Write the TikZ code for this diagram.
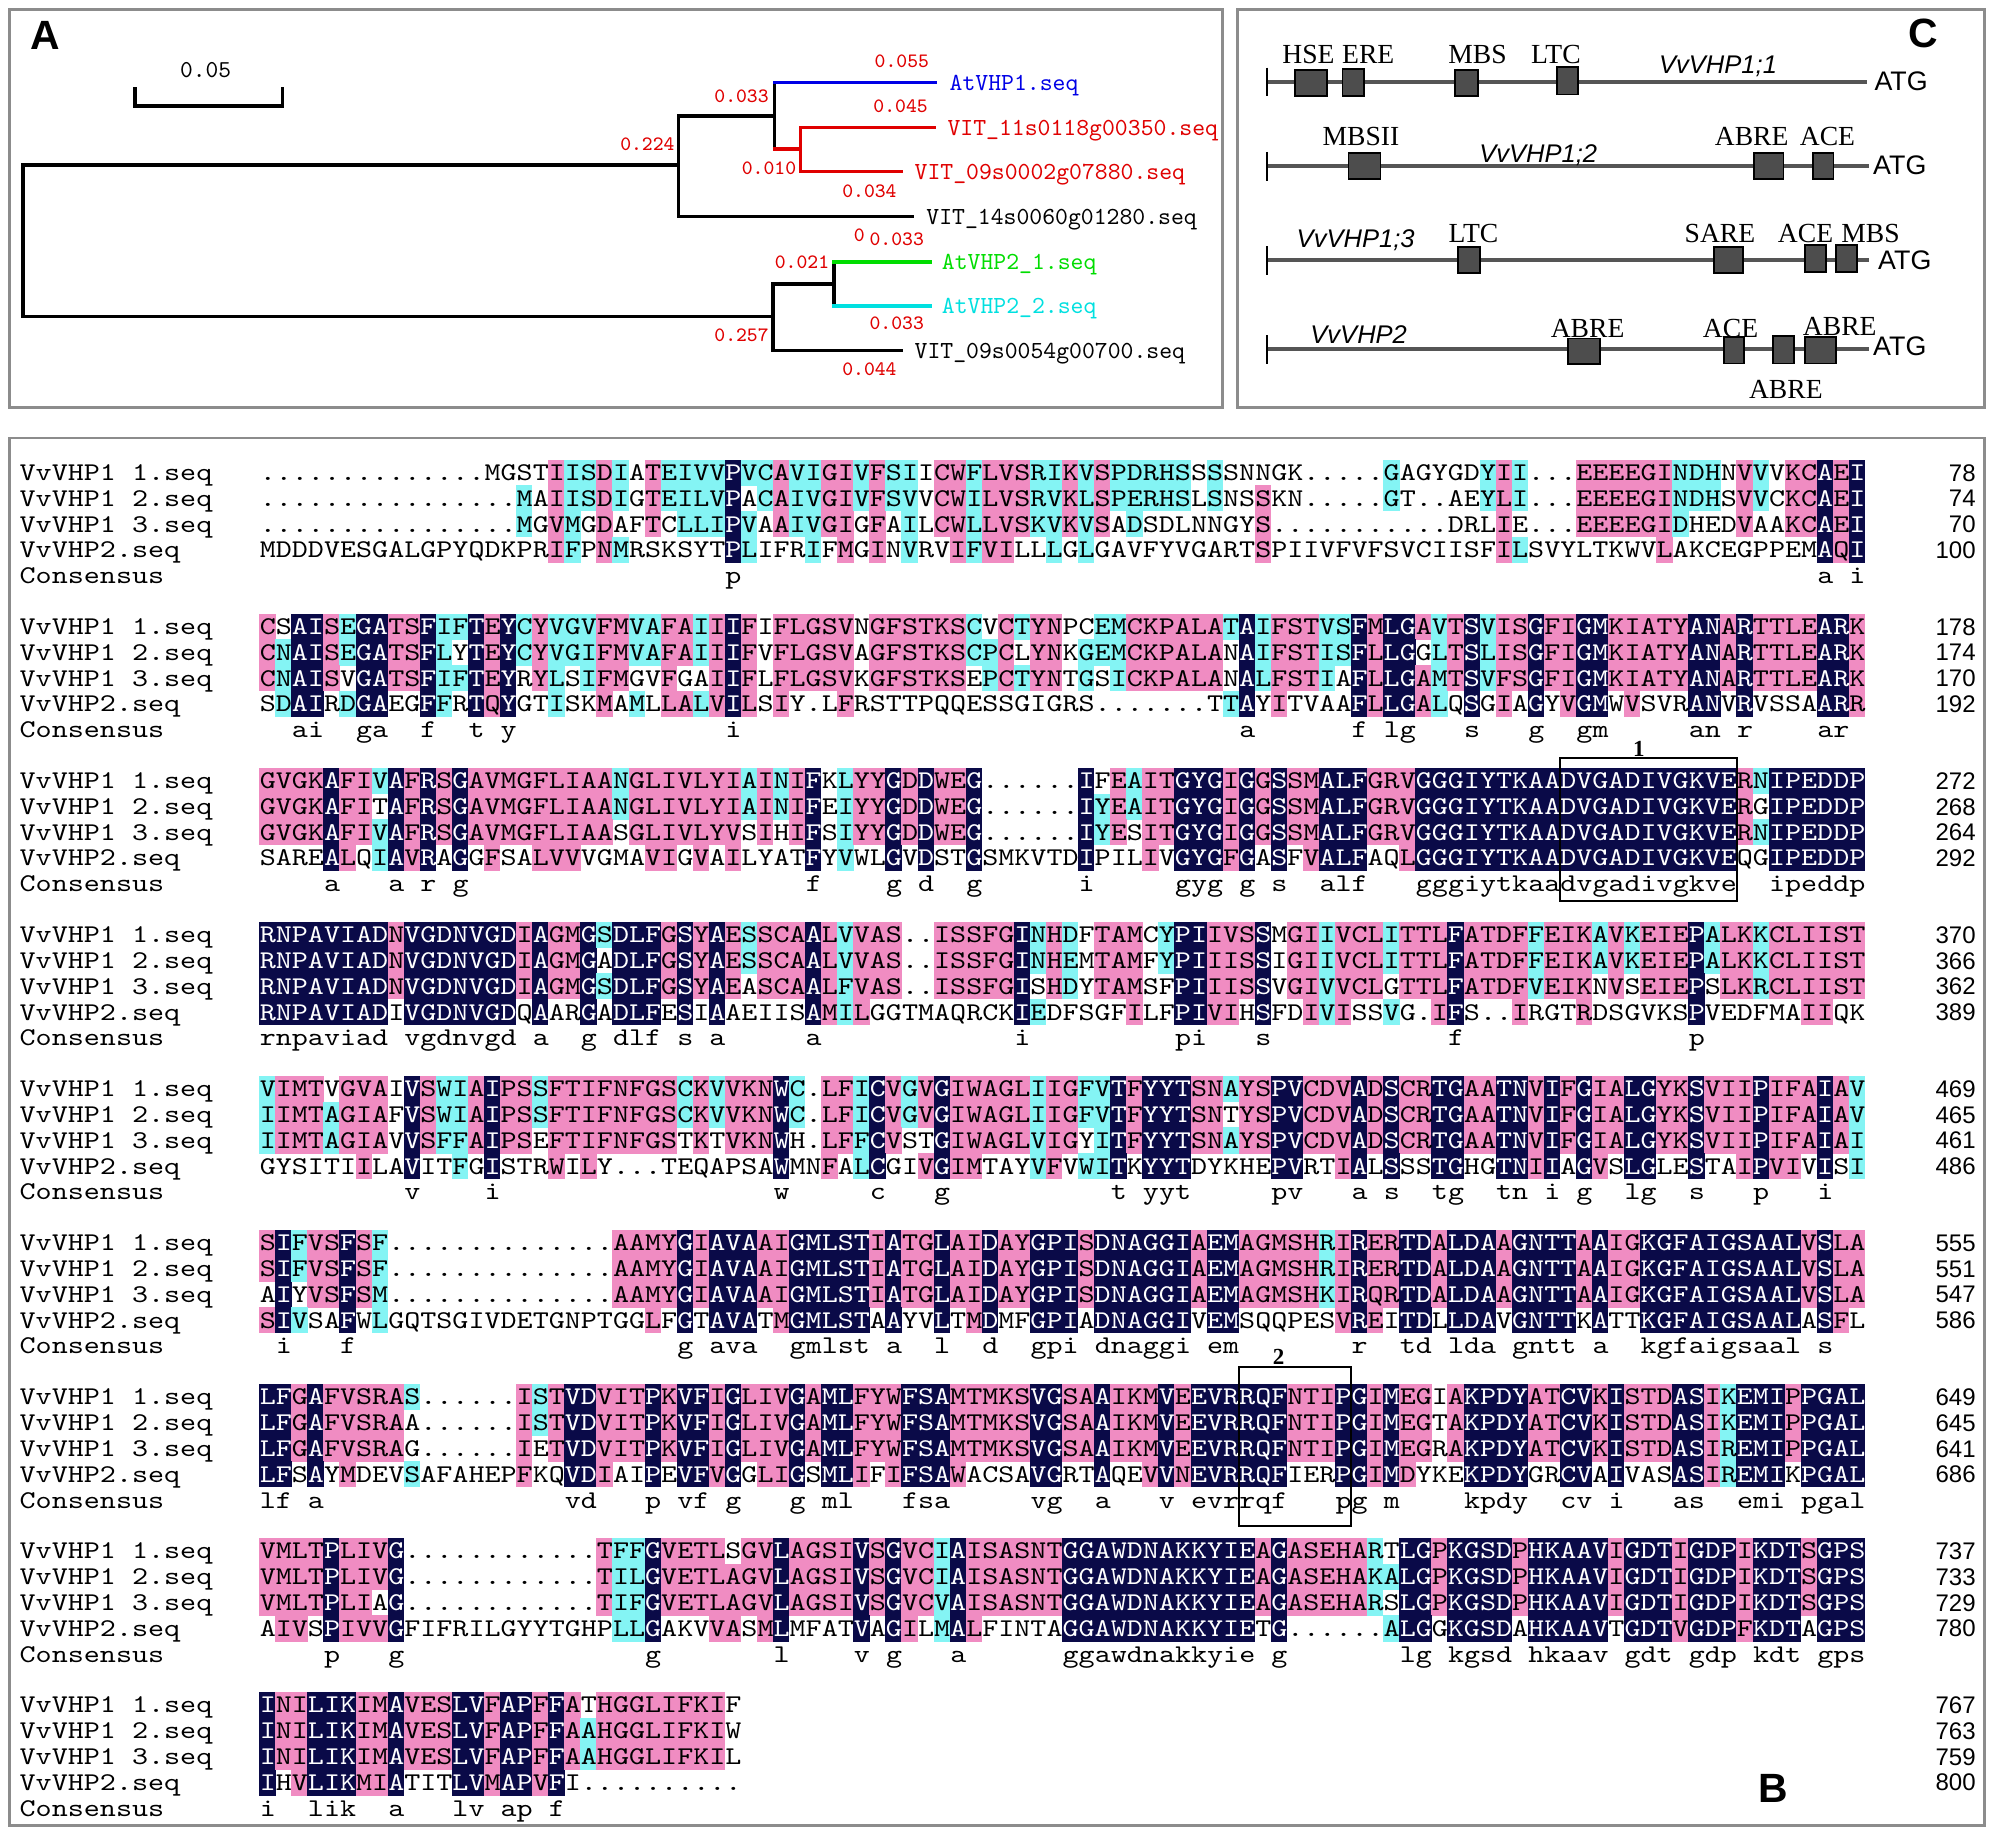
\documentclass[tikz,border=0pt]{standalone}
\usepackage{fontspec}
\setmainfont{Liberation Serif}
\newfontfamily\sansf{Liberation Sans}
\newfontfamily\seqf{lmmono10-regular.otf}[FakeStretch=1.197]
\definecolor{navyc}{HTML}{0A0A48}
\definecolor{pinkc}{HTML}{F08CC2}
\definecolor{cyanc}{HTML}{84F4F4}
\definecolor{framec}{HTML}{8C8C8C}
\definecolor{promc}{HTML}{555555}
\definecolor{boxc}{HTML}{4D4D4D}
\definecolor{tblue}{HTML}{0000E6}
\definecolor{tred}{HTML}{E00000}
\definecolor{tgreen}{HTML}{00DD00}
\definecolor{tcyan}{HTML}{00E0E0}
\tikzset{
  rowtext/.style={font=\seqf\fontsize{10}{10}\selectfont, inner sep=0pt, anchor=base west},
  lab/.style={rowtext},
  num/.style={font=\sansf\fontsize{9.4}{10}\selectfont, inner sep=0pt, anchor=base east},
  br/.style={line width=1.4pt, line cap=rect},
  tlab/.style={font=\ttfamily\fontsize{9.6}{10}\selectfont, inner sep=0pt, anchor=base west},
  bl/.style={font=\ttfamily\fontsize{8}{9}\selectfont, inner sep=0pt, text=tred},
  prom/.style={line width=1.5pt, draw=promc},
  tick/.style={line width=0.6pt, draw=black},
  tbox/.style={fill=boxc, draw=black, line width=0.7pt},
  elem/.style={font=\fontsize{10.8}{11}\selectfont, inner sep=0pt},
  gname/.style={font=\sansf\itshape\fontsize{10}{10}\selectfont, inner sep=0pt, anchor=base west},
  atg/.style={font=\sansf\fontsize{10.5}{11}\selectfont, inner sep=0pt, anchor=west},
  panel/.style={draw=framec, line width=1pt},
  plet/.style={font=\sansf\bfseries\fontsize{16}{16}\selectfont, inner sep=0pt},
  motif/.style={draw=black, line width=0.8pt},
  motiflab/.style={font=\bfseries\fontsize{9}{9}\selectfont, inner sep=0pt},
}
\newcommand\alnWhite[1]{{\color{white}#1}}
\newcommand\alnGap{\kern6.285pt\relax}
\newcommand\alnFill[4]{\fill[#1] (#2,#3-10.2) rectangle ++(#4,20.4);}
\newcommand\alnRowText[2]{\node[rowtext] at (203,#1+6.1) {#2};}
\newcommand\alnlabels[5]{%
  \node[lab] at (15,#1+6.1) {VvVHP1 1.seq};
  \node[lab] at (15,#1+26.3) {VvVHP1 2.seq};
  \node[lab] at (15,#1+46.5) {VvVHP1 3.seq};
  \node[lab] at (15,#1+66.7) {VvVHP2.seq};
  \node[lab] at (15,#1+86.9) {Consensus};
  \node[num] at (1547,#1+6.6) {#2};
  \node[num] at (1547,#1+26.8) {#3};
  \node[num] at (1547,#1+47.0) {#4};
  \node[num] at (1547,#1+67.2) {#5};
}
\ExplSyntaxOn
\str_new:N \l_aln_sa_str
\str_new:N \l_aln_sb_str
\str_new:N \l_aln_sc_str
\str_new:N \l_aln_sd_str
\str_new:N \l_aln_ca_str
\str_new:N \l_aln_cb_str
\str_new:N \l_aln_cc_str
\str_new:N \l_aln_cd_str
\str_new:N \l_aln_r_str
\str_new:N \l_aln_out_str
\str_new:N \l_aln_tmp_str
\str_new:N \l_aln_dot_str
\str_set:Nn \l_aln_dot_str {.}
\tl_new:N \l_aln_rg_tl
\tl_new:N \l_aln_xg_tl
\tl_new:N \l_aln_bga_tl
\tl_new:N \l_aln_bgb_tl
\tl_new:N \l_aln_bgc_tl
\tl_new:N \l_aln_bgd_tl
\tl_new:N \l_aln_bg_tl
\tl_new:N \l_aln_cons_tl
\tl_new:N \l_aln_constext_tl
\tl_new:N \l_aln_text_tl
\tl_new:N \l_aln_run_tl
\tl_new:N \l_aln_cur_tl
\tl_new:N \l_aln_code_tl
\tl_const:Nn \c_aln_none_tl {none}
\tl_const:Nn \c_aln_navy_tl {navyc}
\int_new:N \l_aln_m_int
\int_new:N \l_aln_n_int
\int_new:N \l_aln_rep_int
\int_new:N \l_aln_start_int
\int_new:N \l_aln_len_int
\bool_new:N \l_aln_cons_bool
\bool_new:N \l_aln_hit_bool
\prop_new:N \l_aln_cons_prop
\cs_generate_variant:Nn \prop_put:Nnn { Nxx }
\cs_new_protected:Npn \aln_expand:N #1
 {
  \str_clear:N \l_aln_out_str
  \int_zero:N \l_aln_rep_int
  \str_map_inline:Nn #1
   {
    \tl_if_in:nnTF { 0123456789 } { ##1 }
     { \int_set:Nn \l_aln_rep_int { \l_aln_rep_int * 10 + ##1 } }
     {
      \int_compare:nNnTF \l_aln_rep_int > 0
       {
        \prg_replicate:nn { \l_aln_rep_int } { \str_put_right:Nn \l_aln_out_str { ##1 } }
        \int_zero:N \l_aln_rep_int
       }
       { \str_put_right:Nn \l_aln_out_str { ##1 } }
     }
   }
  \str_set_eq:NN #1 \l_aln_out_str
 }
\cs_new_protected:Npn \aln_addcons:w #1 = #2 \q_stop
 {
  \str_set:Nn \l_aln_tmp_str {#2}
  \int_step_inline:nn { \str_count:N \l_aln_tmp_str }
   {
    \prop_put:Nxx \l_aln_cons_prop { \int_eval:n { #1 + ##1 - 1 } } { \str_item:Nn \l_aln_tmp_str {##1} }
   }
 }
\cs_new_protected:Npn \aln_grp:NN #1#2
 {
  \exp_args:NV \str_case:nnF #2
   {
    {I}{\tl_set:Nn #1 {h}} {L}{\tl_set:Nn #1 {h}} {V}{\tl_set:Nn #1 {h}}
    {M}{\tl_set:Nn #1 {h}} {F}{\tl_set:Nn #1 {h}} {W}{\tl_set:Nn #1 {h}}
    {D}{\tl_set:Nn #1 {a}} {E}{\tl_set:Nn #1 {a}} {N}{\tl_set:Nn #1 {a}} {Q}{\tl_set:Nn #1 {a}}
    {K}{\tl_set:Nn #1 {b}} {R}{\tl_set:Nn #1 {b}} {H}{\tl_set:Nn #1 {b}}
   }
   { \tl_set:Nx #1 { #2 x } }
 }
\cs_new_protected:Npn \aln_try:N #1
 {
  \bool_if:nT { ! \str_if_empty_p:N #1 && ! \str_if_eq_p:NN #1 \l_aln_dot_str }
   {
    \int_zero:N \l_aln_n_int
    \str_if_eq:NNT #1 \l_aln_ca_str { \int_incr:N \l_aln_n_int }
    \str_if_eq:NNT #1 \l_aln_cb_str { \int_incr:N \l_aln_n_int }
    \str_if_eq:NNT #1 \l_aln_cc_str { \int_incr:N \l_aln_n_int }
    \str_if_eq:NNT #1 \l_aln_cd_str { \int_incr:N \l_aln_n_int }
    \int_compare:nNnT \l_aln_n_int > \l_aln_m_int
     {
      \int_set_eq:NN \l_aln_m_int \l_aln_n_int
      \str_set_eq:NN \l_aln_r_str #1
     }
   }
 }
\cs_new_protected:Npn \aln_code:NN #1#2
 {
  \tl_set:Nn \l_aln_bg_tl {none}
  \bool_if:NTF \l_aln_cons_bool
   {
    \str_if_eq:NNF #1 \l_aln_dot_str { \tl_set:Nn \l_aln_bg_tl {navyc} }
   }
   {
    \bool_set_false:N \l_aln_hit_bool
    \int_compare:nNnT \l_aln_m_int > 1
     {
      \str_if_eq:NNTF #1 \l_aln_r_str
       { \bool_set_true:N \l_aln_hit_bool }
       {
        \bool_if:nT { ! \str_if_empty_p:N #1 && ! \str_if_eq_p:NN #1 \l_aln_dot_str }
         {
          \aln_grp:NN \l_aln_xg_tl #1
          \tl_if_eq:NNT \l_aln_xg_tl \l_aln_rg_tl { \bool_set_true:N \l_aln_hit_bool }
         }
       }
     }
    \bool_if:NT \l_aln_hit_bool
     {
      \int_compare:nNnTF \l_aln_m_int > 2
       { \tl_set:Nn \l_aln_bg_tl {pinkc} }
       { \tl_set:Nn \l_aln_bg_tl {cyanc} }
     }
   }
  \tl_put_right:Nx #2 { { \l_aln_bg_tl } }
 }
\cs_new_protected:Npn \aln_colpass:n #1
 {
  \str_set:Nx \l_aln_ca_str { \str_item:Nn \l_aln_sa_str {#1} }
  \str_set:Nx \l_aln_cb_str { \str_item:Nn \l_aln_sb_str {#1} }
  \str_set:Nx \l_aln_cc_str { \str_item:Nn \l_aln_sc_str {#1} }
  \str_set:Nx \l_aln_cd_str { \str_item:Nn \l_aln_sd_str {#1} }
  \int_zero:N \l_aln_m_int
  \str_clear:N \l_aln_r_str
  \aln_try:N \l_aln_ca_str
  \aln_try:N \l_aln_cb_str
  \aln_try:N \l_aln_cc_str
  \aln_try:N \l_aln_cd_str
  \aln_grp:NN \l_aln_rg_tl \l_aln_r_str
  \prop_get:NnNTF \l_aln_cons_prop {#1} \l_aln_cons_tl
   {
    \bool_set_true:N \l_aln_cons_bool
    \tl_put_right:NV \l_aln_constext_tl \l_aln_cons_tl
   }
   {
    \bool_set_false:N \l_aln_cons_bool
    \tl_put_right:Nn \l_aln_constext_tl { \alnGap }
   }
  \aln_code:NN \l_aln_ca_str \l_aln_bga_tl
  \aln_code:NN \l_aln_cb_str \l_aln_bgb_tl
  \aln_code:NN \l_aln_cc_str \l_aln_bgc_tl
  \aln_code:NN \l_aln_cd_str \l_aln_bgd_tl
 }
\cs_new_protected:Npn \aln_flush:nn #1#2
 {
  \tl_if_eq:NNTF \l_aln_cur_tl \c_aln_none_tl
   { \tl_put_right:NV \l_aln_text_tl \l_aln_run_tl }
   {
    \use:x
     {
      \exp_not:N \alnFill
       { \l_aln_cur_tl }
       { \fp_eval:n { 203 + 12.57 * ( \l_aln_start_int - 1 ) - 0.1 } }
       { \fp_eval:n { #2 } }
       { \fp_eval:n { 12.57 * ( #1 - \l_aln_start_int ) + 0.2 } }
     }
    \tl_if_eq:NNTF \l_aln_cur_tl \c_aln_navy_tl
     { \tl_put_right:Nx \l_aln_text_tl { \exp_not:N \alnWhite { \exp_not:V \l_aln_run_tl } } }
     { \tl_put_right:NV \l_aln_text_tl \l_aln_run_tl }
   }
  \tl_clear:N \l_aln_run_tl
 }
\cs_new_protected:Npn \aln_row:NNn #1#2#3
 {
  \tl_clear:N \l_aln_text_tl
  \tl_clear:N \l_aln_run_tl
  \tl_set:Nn \l_aln_cur_tl {none}
  \int_set:Nn \l_aln_start_int {1}
  \int_set:Nn \l_aln_len_int { \str_count:N #1 }
  \int_step_inline:nn { \l_aln_len_int }
   {
    \tl_set:Nx \l_aln_code_tl { \tl_item:Nn #2 {##1} }
    \tl_if_eq:NNF \l_aln_code_tl \l_aln_cur_tl
     {
      \aln_flush:nn {##1} {#3}
      \tl_set_eq:NN \l_aln_cur_tl \l_aln_code_tl
      \int_set:Nn \l_aln_start_int {##1}
     }
    \tl_put_right:Nx \l_aln_run_tl { \str_item:Nn #1 {##1} }
   }
  \aln_flush:nn { \l_aln_len_int + 1 } {#3}
  \use:x { \exp_not:N \alnRowText { \fp_eval:n {#3} } { \exp_not:V \l_aln_text_tl } }
 }
\NewDocumentCommand \alnblock { m m m m m m }
 {
  \str_set:Nn \l_aln_sa_str {#2} \aln_expand:N \l_aln_sa_str
  \str_set:Nn \l_aln_sb_str {#3} \aln_expand:N \l_aln_sb_str
  \str_set:Nn \l_aln_sc_str {#4} \aln_expand:N \l_aln_sc_str
  \str_set:Nn \l_aln_sd_str {#5} \aln_expand:N \l_aln_sd_str
  \prop_clear:N \l_aln_cons_prop
  \clist_map_inline:nn {#6} { \aln_addcons:w ##1 \q_stop }
  \tl_clear:N \l_aln_bga_tl
  \tl_clear:N \l_aln_bgb_tl
  \tl_clear:N \l_aln_bgc_tl
  \tl_clear:N \l_aln_bgd_tl
  \tl_clear:N \l_aln_constext_tl
  \int_step_inline:nn { 100 } { \aln_colpass:n {##1} }
  \aln_row:NNn \l_aln_sa_str \l_aln_bga_tl {#1}
  \aln_row:NNn \l_aln_sb_str \l_aln_bgb_tl {#1+20.2}
  \aln_row:NNn \l_aln_sc_str \l_aln_bgc_tl {#1+40.4}
  \aln_row:NNn \l_aln_sd_str \l_aln_bgd_tl {#1+60.6}
  \use:x { \exp_not:N \alnRowText { \fp_eval:n {#1+80.8} } { \exp_not:V \l_aln_constext_tl } }
 }
\ExplSyntaxOff
\begin{document}
\begin{tikzpicture}[x=0.5pt,y=-0.5pt]
\useasboundingbox (0,0) rectangle (1568,1440);
\fill[white] (0,0) rectangle (1568,1440);

% ---------------- Panel A: tree ----------------
\draw[panel] (7.4,7.3) rectangle (957,318.9);
\node[plet] (letA) at (35.6,27.4) {A};
\draw[line width=1.4pt] (105.7,68.4) -- (105.7,83) -- (221.1,83) -- (221.1,68.4);
\node[font=\ttfamily\fontsize{9.5}{10}\selectfont, inner sep=0pt] (scl) at (161,54.8) {0.05};

\coordinate (r1) at (18,129.2); \coordinate (r2) at (18,247.9);
\coordinate (n1) at (531,129.2); \coordinate (n1t) at (531,90.8); \coordinate (n1b) at (531,169.6);
\coordinate (n2) at (606.3,90.8); \coordinate (n2t) at (606.3,64.7); \coordinate (n2b) at (606.3,116.6);
\coordinate (n3) at (626.5,116.6); \coordinate (n3t) at (626.5,99.9); \coordinate (n3b) at (626.5,134.4);
\coordinate (n4) at (605,247.9); \coordinate (n4t) at (605,222.3); \coordinate (n4b) at (605,274.5);
\coordinate (n5) at (653,222.3); \coordinate (n5t) at (653,204.9); \coordinate (n5b) at (653,239.6);
\coordinate (e1) at (732.2,64.7); \coordinate (e2) at (731,99.9); \coordinate (e3) at (705.2,134.4);
\coordinate (e4) at (714.4,169.6); \coordinate (e5) at (727.9,204.9); \coordinate (e6) at (727.9,239.6);
\coordinate (e7) at (705.2,274.5);
\draw[br] (r1) -- (r2);
\draw[br] (r1) -- (n1);
\draw[br] (n1t) -- (n1b);
\draw[br] (n1t) -- (n2);
\draw[br] (n2t) -- (n2b);
\draw[br, tred] (n2b) -- (n3);
\draw[br, tred] (n3t) -- (n3b);
\draw[br, tblue] (n2t) -- (e1);
\draw[br, tred] (n3t) -- (e2);
\draw[br, tred] (n3b) -- (e3);
\draw[br] (n1b) -- (e4);
\draw[br] (r2) -- (n4);
\draw[br] (n4t) -- (n4b);
\draw[br] (n4t) -- (n5);
\draw[br] (n5t) -- (n5b);
\draw[br, tgreen] (n5t) -- (e5);
\draw[br, tcyan] (n5b) -- (e6);
\draw[br] (n4b) -- (e7);
\node[tlab, text=tblue] (t1) at (743,70.6) {AtVHP1.seq};
\node[tlab, text=tred] (t2) at (741.4,105.8) {VIT\_11s0118g00350.seq};
\node[tlab, text=tred] (t3) at (715.6,140.3) {VIT\_09s0002g07880.seq};
\node[tlab] (t4) at (724.8,175.5) {VIT\_14s0060g01280.seq};
\node[tlab, text=tgreen] (t5) at (737,210.8) {AtVHP2\_1.seq};
\node[tlab, text=tcyan] (t6) at (737,245.5) {AtVHP2\_2.seq};
\node[tlab] (t7) at (715.6,280.4) {VIT\_09s0054g00700.seq};
\node[bl] (b1) at (706,48.3) {0.055};
\node[bl] (b2) at (580.5,75.2) {0.033};
\node[bl] (b3) at (705,83.5) {0.045};
\node[bl] (b4) at (506.8,112.7) {0.224};
\node[bl] (b5) at (602,131.8) {0.010};
\node[bl] (b6) at (680.6,150) {0.034};
\node[bl] (b7) at (672.6,184) {0};
\node[bl] (b8) at (702,187.4) {0.033};
\node[bl] (b9) at (627.8,205.6) {0.021};
\node[bl] (b10) at (702,253) {0.033};
\node[bl] (b11) at (580.5,262.3) {0.257};
\node[bl] (b12) at (680.6,289) {0.044};

% ---------------- Panel C: promoters ----------------
\draw[panel] (968.7,7.3) rectangle (1553.4,318.9);
\node[plet] (letC) at (1505.4,26) {C};
\draw[prom] (991.7,63.9) -- (1461.3,63.9);
\draw[tick] (991.7,53) -- (991.7,75.5);
\draw[tbox] (1013.9,54.8) rectangle (1038.9,74.9);
\draw[tbox] (1051,54) rectangle (1068,74.9);
\draw[tbox] (1139.3,54.8) rectangle (1157.3,74.9);
\draw[tbox] (1219,52.2) rectangle (1235.2,73.9);
\node[elem] at (1024.3,43) {HSE};
\node[elem] at (1071.1,43) {ERE};
\node[elem] at (1156.6,43) {MBS};
\node[elem] at (1218,43) {LTC};
\node[gname] at (1298.4,57.6) {VvVHP1;1};
\node[atg] at (1467,63.9) {ATG};
\draw[prom] (991.7,129.7) -- (1463.3,129.7);
\draw[tick] (991.7,118.8) -- (991.7,141.3);
\draw[tbox] (1055.7,120) rectangle (1080.6,140.1);
\draw[tbox] (1373.2,120) rectangle (1396.2,140.1);
\draw[tbox] (1419.2,120) rectangle (1435.3,140.1);
\node[elem] at (1065.4,107) {MBSII};
\node[elem] at (1371.2,107) {ABRE};
\node[elem] at (1430.6,107) {ACE};
\node[gname] at (1157.6,127.2) {VvVHP1;2};
\node[atg] at (1466,129.7) {ATG};
\draw[prom] (991.7,203.5) -- (1463.3,203.5);
\draw[tick] (991.7,192.6) -- (991.7,215.1);
\draw[tbox] (1141.2,193.6) rectangle (1158.5,214);
\draw[tbox] (1341.8,193.6) rectangle (1364.4,214);
\draw[tbox] (1413.2,191.8) rectangle (1429.3,212.7);
\draw[tbox] (1437.4,191.8) rectangle (1453.5,212.7);
\node[elem] at (1153.5,182.7) {LTC};
\node[elem] at (1346.4,182.7) {SARE};
\node[elem] at (1413.4,182.7) {ACE};
\node[elem] at (1464.3,182.7) {MBS};
\node[gname] at (1014.7,193.8) {VvVHP1;3};
\node[atg] at (1469.9,204) {ATG};
\draw[prom] (991.7,273.5) -- (1463.3,273.5);
\draw[tick] (991.7,262.6) -- (991.7,285.1);
\draw[tbox] (1227.5,264.9) rectangle (1252.4,285);
\draw[tbox] (1349.4,263.6) rectangle (1365.5,284.5);
\draw[tbox] (1388.1,263) rectangle (1404.2,284.5);
\draw[tbox] (1413.1,263.6) rectangle (1437.2,284.5);
\node[elem] at (1242.8,257) {ABRE};
\node[elem] at (1354.7,257) {ACE};
\node[elem] at (1440.2,255.7) {ABRE};
\node[elem] at (1398,304.8) {ABRE};
\node[gname] at (1025.4,269.2) {VvVHP2};
\node[atg] at (1466,271.4) {ATG};

% ---------------- Panel B: alignment ----------------
\draw[panel] (7.4,343) rectangle (1553.4,1429);
\node[plet] (letB) at (1388,1400) {B};

\alnlabels{370}{78}{74}{70}{100}
\alnblock{370}
{14.MGSTIISDIATEIVVPVCAVIGIVFSIICWFLVSRIKVSPDRHSSSSNNGK5.GAGYGDYII3.EEEEGINDHNVVVKCAEI}
{16.MAIISDIGTEILVPACAIVGIVFSVVCWILVSRVKLSPERHSLSNSSKN5.GT2.AEYLI3.EEEEGINDHSVVCKCAEI}
{16.MGVMGDAFTCLLIPVAAIVGIGFAILCWLLVSKVKVSADSDLNNGYS11.DRLIE3.EEEEGIDHEDVAAKCAEI}
{MDDDVESGALGPYQDKPRIFPNMRSKSYTPLIFRIFMGINVRVIFVILLLGLGAVFYVGARTSPIIVFVFSVCIISFILSVYLTKWVLAKCEGPPEMAQI}
{30=p,98=a,100=i}

\alnlabels{490.6}{178}{174}{170}{192}
\alnblock{490.6}
{CSAISEGATSFIFTEYCYVGVFMVAFAIIIFIFLGSVNGFSTKSCVCTYNPCEMCKPALATAIFSTVSFMLGAVTSVISGFIGMKIATYANARTTLEARK}
{CNAISEGATSFLYTEYCYVGIFMVAFAIIIFVFLGSVAGFSTKSCPCLYNKGEMCKPALANAIFSTISFLLGGLTSLISGFIGMKIATYANARTTLEARK}
{CNAISVGATSFIFTEYRYLSIFMGVFGAIIFLFLGSVKGFSTKSEPCTYNTGSICKPALANALFSTIAFLLGAMTSVFSGFIGMKIATYANARTTLEARK}
{SDAIRDGAEGFFRTQYGTISKMAMLLALVILSIY.LFRSTTPQQESSGIGRS7.TTAYITVAAFLLGALQSGIAGYVGMWVSVRANVRVSSAARR}
{3=ai,7=ga,11=f,14=t,16=y,30=i,62=a,69=f,71=lg,76=s,80=g,83=gm,90=an,93=r,98=ar}

\alnlabels{611.2}{272}{268}{264}{292}
\alnblock{611.2}
{GVGKAFIVAFRSGAVMGFLIAANGLIVLYIAINIFKLYYGDDWEG6.IFEAITGYGIGGSSMALFGRVGGGIYTKAADVGADIVGKVERNIPEDDP}
{GVGKAFITAFRSGAVMGFLIAANGLIVLYIAINIFEIYYGDDWEG6.IYEAITGYGIGGSSMALFGRVGGGIYTKAADVGADIVGKVERGIPEDDP}
{GVGKAFIVAFRSGAVMGFLIAASGLIVLYVSIHIFSIYYGDDWEG6.IYESITGYGIGGSSMALFGRVGGGIYTKAADVGADIVGKVERNIPEDDP}
{SAREALQIAVRAGGFSALVVVGMAVIGVAILYATFYVWLGVDSTGSMKVTDIPILIVGYGFGASFVALFAQLGGGIYTKAADVGADIVGKVEQGIPEDDP}
{5=a,9=a,11=r,13=g,35=f,40=g,42=d,45=g,52=i,58=gyg,62=g,64=s,67=alf,73=gggiytkaadvgadivgkve,95=ipeddp}

\alnlabels{731.8}{370}{366}{362}{389}
\alnblock{731.8}
{RNPAVIADNVGDNVGDIAGMGSDLFGSYAESSCAALVVAS2.ISSFGINHDFTAMCYPIIVSSMGIIVCLITTLFATDFFEIKAVKEIEPALKKCLIIST}
{RNPAVIADNVGDNVGDIAGMGADLFGSYAESSCAALVVAS2.ISSFGINHEMTAMFYPIIISSIGIIVCLITTLFATDFFEIKAVKEIEPALKKCLIIST}
{RNPAVIADNVGDNVGDIAGMGSDLFGSYAEASCAALFVAS2.ISSFGISHDYTAMSFPIIISSVGIVVCLGTTLFATDFVEIKNVSEIEPSLKRCLIIST}
{RNPAVIADIVGDNVGDQAARGADLFESIAAEIISAMILGGTMAQRCKIEDFSGFILFPIVIHSFDIVISSVG.IFS2.IRGTRDSGVKSPVEDFMAIIQK}
{1=rnpaviad,10=vgdnvgd,18=a,21=g,23=dlf,27=s,29=a,35=a,48=i,58=pi,63=s,75=f,90=p}

\alnlabels{852.4}{469}{465}{461}{486}
\alnblock{852.4}
{VIMTVGVAIVSWIAIPSSFTIFNFGSCKVVKNWC.LFICVGVGIWAGLIIGFVTFYYTSNAYSPVCDVADSCRTGAATNVIFGIALGYKSVIIPIFAIAV}
{IIMTAGIAFVSWIAIPSSFTIFNFGSCKVVKNWC.LFICVGVGIWAGLIIGFVTFYYTSNTYSPVCDVADSCRTGAATNVIFGIALGYKSVIIPIFAIAV}
{IIMTAGIAVVSFFAIPSEFTIFNFGSTKTVKNWH.LFFCVSTGIWAGLVIGYITFYYTSNAYSPVCDVADSCRTGAATNVIFGIALGYKSVIIPIFAIAI}
{GYSITIILAVITFGISTRWILY3.TEQAPSAWMNFALCGIVGIMTAYVFVWITKYYTDYKHEPVRTIALSSSTGHGTNIIAGVSLGLESTAIPVIVISI}
{10=v,15=i,33=w,39=c,43=g,54=t,56=yyt,64=pv,69=a,71=s,74=tg,78=tn,81=i,83=g,86=lg,90=s,94=p,98=i}

\alnlabels{973}{555}{551}{547}{586}
\alnblock{973}
{SIFVSFSF14.AAMYGIAVAAIGMLSTIATGLAIDAYGPISDNAGGIAEMAGMSHRIRERTDALDAAGNTTAAIGKGFAIGSAALVSLA}
{SIFVSFSF14.AAMYGIAVAAIGMLSTIATGLAIDAYGPISDNAGGIAEMAGMSHRIRERTDALDAAGNTTAAIGKGFAIGSAALVSLA}
{AIYVSFSM14.AAMYGIAVAAIGMLSTIATGLAIDAYGPISDNAGGIAEMAGMSHKIRQRTDALDAAGNTTAAIGKGFAIGSAALVSLA}
{SIVSAFWLGQTSGIVDETGNPTGGLFGTAVATMGMLSTAAYVLTMDMFGPIADNAGGIVEMSQQPESVREITDLLDAVGNTTKATTKGFAIGSAALASFL}
{2=i,6=f,27=g,29=ava,34=gmlst,40=a,43=l,46=d,49=gpi,53=dnaggi,60=em,69=r,72=td,75=lda,79=gntt,84=a,87=kgfaigsaal,98=s}

\alnlabels{1093.6}{649}{645}{641}{686}
\alnblock{1093.6}
{LFGAFVSRAS6.ISTVDVITPKVFIGLIVGAMLFYWFSAMTMKSVGSAAIKMVEEVRRQFNTIPGIMEGIAKPDYATCVKISTDASIKEMIPPGAL}
{LFGAFVSRAA6.ISTVDVITPKVFIGLIVGAMLFYWFSAMTMKSVGSAAIKMVEEVRRQFNTIPGIMEGTAKPDYATCVKISTDASIKEMIPPGAL}
{LFGAFVSRAG6.IETVDVITPKVFIGLIVGAMLFYWFSAMTMKSVGSAAIKMVEEVRRQFNTIPGIMEGRAKPDYATCVKISTDASIREMIPPGAL}
{LFSAYMDEVSAFAHEPFKQVDIAIPEVFVGGLIGSMLIFIFSAWACSAVGRTAQEVVNEVRRQFIERPGIMDYKEKPDYGRCVAIVASASIREMIKPGAL}
{1=lf,4=a,20=vd,25=p,27=vf,30=g,34=g,36=ml,41=fsa,49=vg,53=a,57=v,59=evrrqf,68=pg,71=m,76=kpdy,82=cv,85=i,89=as,93=emi,97=pgal}

\alnlabels{1214.2}{737}{733}{729}{780}
\alnblock{1214.2}
{VMLTPLIVG12.TFFGVETLSGVLAGSIVSGVCIAISASNTGGAWDNAKKYIEAGASEHARTLGPKGSDPHKAAVIGDTIGDPIKDTSGPS}
{VMLTPLIVG12.TILGVETLAGVLAGSIVSGVCIAISASNTGGAWDNAKKYIEAGASEHAKALGPKGSDPHKAAVIGDTIGDPIKDTSGPS}
{VMLTPLIAG12.TIFGVETLAGVLAGSIVSGVCVAISASNTGGAWDNAKKYIEAGASEHARSLGPKGSDPHKAAVIGDTIGDPIKDTSGPS}
{AIVSPIVVGFIFRILGYYTGHPLLGAKVVASMLMFATVAGILMALFINTAGGAWDNAKKYIETG6.ALGGKGSDAHKAAVTGDTVGDPFKDTAGPS}
{5=p,9=g,25=g,33=l,38=v,40=g,44=a,51=ggawdnakkyie,64=g,72=lg,75=kgsd,80=hkaav,86=gdt,90=gdp,94=kdt,98=gps}

\alnlabels{1334.8}{767}{763}{759}{800}
\alnblock{1334.8}
{INILIKIMAVESLVFAPFFATHGGLIFKIF}
{INILIKIMAVESLVFAPFFAAHGGLIFKIW}
{INILIKIMAVESLVFAPFFAAHGGLIFKIL}
{IHVLIKMIATITLVMAPVFI10.}
{1=i,4=lik,9=a,13=lv,16=ap,19=f}

\draw[motif] (1221.2,593) rectangle (1359.4,705.5);
\node[motiflab] (m1) at (1283,586) {1};
\draw[motif] (969.8,1070) rectangle (1057.8,1194.6);
\node[motiflab] (m2) at (1001,1062) {2};
\end{tikzpicture}
\end{document}
